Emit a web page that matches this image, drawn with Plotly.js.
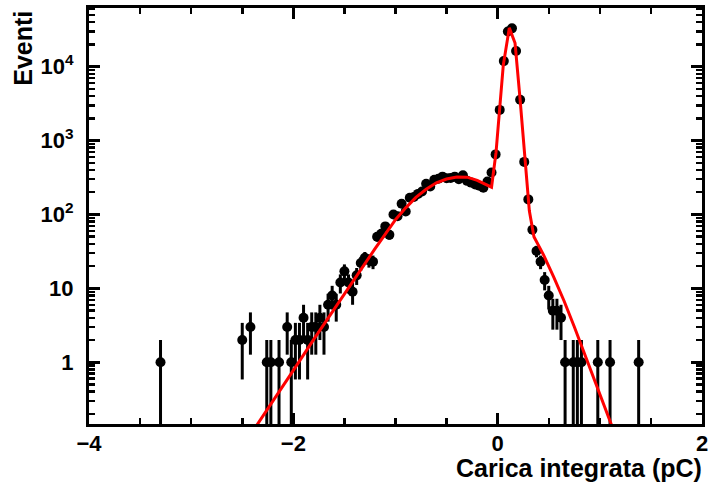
<!DOCTYPE html>
<html><head><meta charset="utf-8">
<script src="https://cdn.plot.ly/plotly-3.0.1.min.js"></script>
<style>html,body{margin:0;padding:0;background:#fff}</style>
</head><body><div id="chart" style="width:710px;height:488px"></div>
<script>
// Histogram bin centres (pC) and counts
const binCenters = [-3.30, -2.50, -2.42, -2.26, -2.22, -2.14, -2.06, -2.02, -1.98, -1.94, -1.90, -1.86,
  -1.82, -1.78, -1.74, -1.70, -1.66, -1.62, -1.58, -1.54, -1.50, -1.46, -1.42, -1.38, -1.34, -1.30,
  -1.26, -1.22, -1.18, -1.14, -1.10, -1.06, -1.02, -0.98, -0.94, -0.90, -0.86, -0.82, -0.78, -0.74,
  -0.70, -0.66, -0.62, -0.58, -0.54, -0.50, -0.46, -0.42, -0.38, -0.34, -0.30, -0.26, -0.22, -0.18,
  -0.14, -0.10, -0.06, -0.02, 0.02, 0.06, 0.10, 0.14, 0.18, 0.22, 0.26, 0.30, 0.34, 0.38, 0.42,
  0.46, 0.50, 0.54, 0.58, 0.62, 0.66, 0.74, 0.78, 0.82, 0.98, 1.10, 1.38];
const counts = [1, 2, 3, 1, 1, 1, 3, 1, 2, 2, 4, 2,
  3, 3, 4, 3, 6, 8, 6, 12, 17, 12, 9, 15, 22, 26,
  24, 23, 50, 55, 69, 53, 100, 95, 140, 110, 168, 172, 190, 205,
  260, 240, 295, 305, 325, 310, 312, 325, 300, 340, 285, 270, 255, 245,
  230, 280, 370, 650, 2600, 11900, 30000, 33000, 16300, 3560, 515, 160, 62, 32, 23,
  13, 8, 5, 5, 4, 1, 1, 1, 1, 1, 1, 1];

const fitX = [-2.40, -2.20, -2.00, -1.80, -1.60, -1.40, -1.20, -1.00, -0.90, -0.80, -0.70, -0.60,
  -0.50, -0.40, -0.30, -0.20, -0.10, -0.06, -0.016, 0.055, 0.114, 0.17, 0.219, 0.267, 0.31, 0.355,
  0.45, 0.55, 0.65, 0.75, 0.85, 0.95, 1.05, 1.15];
const fitY = [0.115, 0.295, 0.776, 2.04, 5.25, 13.5, 34.5, 85, 123, 170, 219, 269,
  302, 322, 320, 290, 252, 234, 692, 10500, 33500, 20900, 3670, 500, 112, 50,
  28.2, 14.1, 6.76, 3.02, 1.32, 0.575, 0.245, 0.105];

const xTickVals = [-4, -2, 0, 2];
const xTickText = ['\u22124', '\u22122', '0', '2'];
const yTickVals = [1, 10, 100, 1000, 10000];
const yTickText = ['1', '10', '10<sup>2</sup>', '10<sup>3</sup>', '10<sup>4</sup>'];
const xTitle = 'Carica integrata (pC)';
const yTitle = 'Eventi';

const yMinor = [];
for (let k = -1; k <= 4; k++) for (let m = 2; m <= 9; m++) yMinor.push(m * Math.pow(10, k));

const FONT = 'Liberation Sans, Arial, Helvetica, sans-serif';

const dataTrace = {
  x: binCenters, y: counts, type: 'scatter', mode: 'markers',
  marker: {color: '#000', size: 10},
  error_y: {type: 'data', array: counts.map(Math.sqrt), visible: true, color: '#000', thickness: 3, width: 0},
  hoverinfo: 'skip', showlegend: false
};
const fitTrace = {
  x: fitX, y: fitY, type: 'scatter', mode: 'lines',
  line: {color: '#ff0000', width: 3},
  hoverinfo: 'skip', showlegend: false
};

const layout = {
  width: 710, height: 488,
  margin: {l: 89, r: 8, t: 8, b: 64},
  paper_bgcolor: '#fff', plot_bgcolor: '#fff',
  showlegend: false,
  xaxis: {
    range: [-4, 2], tickmode: 'array', tickvals: xTickVals, ticktext: xTickText,
    ticks: 'inside', ticklen: 11, tickwidth: 2.5, tickcolor: '#000',
    showline: true, linewidth: 3, linecolor: '#000', mirror: 'ticks',
    showgrid: false, zeroline: false,
    ticklabelstandoff: -2,
    tickfont: {family: FONT, size: 22, color: '#000', weight: 'bold'},
    minor: {ticks: 'inside', ticklen: 6, tickwidth: 2.5, tickcolor: '#000', dtick: 0.5, tick0: 0, showgrid: false}
  },
  yaxis: {
    type: 'log', range: [-0.835, 4.794], tickmode: 'array', tickvals: yTickVals, ticktext: yTickText,
    ticks: 'inside', ticklen: 11, tickwidth: 2.5, tickcolor: '#000',
    showline: true, linewidth: 3, linecolor: '#000', mirror: 'ticks',
    showgrid: false, zeroline: false,
    ticklabelstandoff: 8,
    tickfont: {family: FONT, size: 22, color: '#000', weight: 'bold'},
    minor: {ticks: 'inside', ticklen: 6, tickwidth: 2.5, tickcolor: '#000', tickmode: 'array', tickvals: yMinor, showgrid: false}
  },
  annotations: [
    {text: xTitle, xref: 'paper', yref: 'paper', x: 1.002, y: -0.106, xanchor: 'right', yanchor: 'middle',
     showarrow: false, borderpad: 0, font: {family: FONT, size: 25, color: '#000', weight: 'bold'}},
    {text: yTitle, xref: 'paper', yref: 'paper', x: -0.109, y: 0.995, xanchor: 'center', yanchor: 'top',
     textangle: -90, showarrow: false, borderpad: 0, font: {family: FONT, size: 25, color: '#000', weight: 'bold'}}
  ]
};

Plotly.newPlot('chart', [dataTrace, fitTrace], layout, {displayModeBar: false, staticPlot: true});
</script>
</body></html>
